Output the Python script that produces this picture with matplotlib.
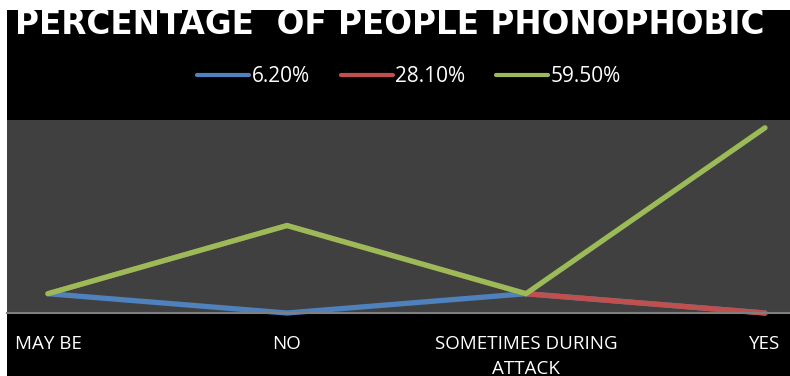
import matplotlib
matplotlib.use("Agg")
import matplotlib.pyplot as plt
from matplotlib.patches import Rectangle

categories = ["MAY BE", "NO", "SOMETIMES DURING\nATTACK", "YES"]
series_names = ["6.20%", "28.10%", "59.50%"]
blue_vals = [6.2, 0, 6.2, 0]
red_vals = [6.2, 28.1, 6.2, 0]
green_vals = [6.2, 28.1, 6.2, 59.5]
colors = ["#4F81BD", "#C0504D", "#9BBB59"]

plt.rcParams['font.family'] = ['Open Sans', 'DejaVu Sans']

fig = plt.figure(figsize=(7.9, 3.76), dpi=100, facecolor="white")
# black chart area, white margin strip at top and left
fig.patches.append(Rectangle((7/790, 0), 1, 1 - 10/376, transform=fig.transFigure,
                             facecolor="black", edgecolor="none", zorder=-10))

ax = fig.add_axes([7/790, 63/376, 783/790, 193/376])
ax.set_facecolor("#404040")

x = range(len(categories))
for vals, name, c in zip([blue_vals, red_vals, green_vals], series_names, colors):
    ax.plot(x, vals, color=c, lw=3.8, solid_capstyle="round",
            solid_joinstyle="miter", label=name, clip_on=False)

ax.set_xlim((7 - 48) / 239, (790 - 48) / 239)
ax.set_ylim(0, 62)
ax.set_xticks(list(x))
ax.set_xticklabels(categories, color="white", fontsize=13.5, linespacing=1.45)
ax.tick_params(axis="x", length=0, pad=16)
ax.set_yticks([])
for s in ["top", "left", "right"]:
    ax.spines[s].set_visible(False)
ax.spines["bottom"].set_color("#7f7f7f")
ax.spines["bottom"].set_linewidth(1.5)

fig.text(15/790, 1 - 34/376, "PERCENTAGE  OF PEOPLE PHONOPHOBIC", color="white",
         fontsize=23.5, fontweight="bold", va="baseline", ha="left",
         family=["DejaVu Sans"])

leg = fig.legend(loc="center", bbox_to_anchor=(409/790, 1 - 77/376), ncol=3,
                 frameon=False, fontsize=15, handlelength=2.5, handletextpad=0.1,
                 columnspacing=1.5, labelcolor="white")
for line in leg.get_lines():
    line.set_linewidth(3)

fig.savefig("out.png", dpi=100, facecolor=fig.get_facecolor())
